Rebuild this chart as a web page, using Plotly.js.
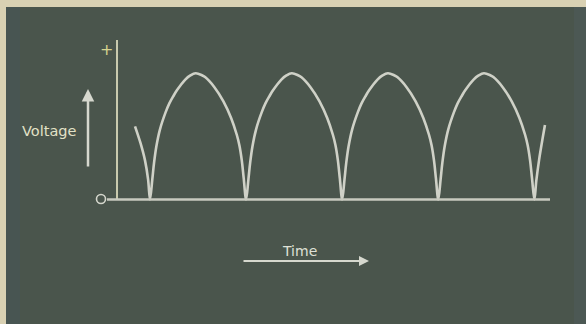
<!DOCTYPE html>
<html>
<head>
<meta charset="utf-8">
<script src="https://cdn.plot.ly/plotly-3.0.1.min.js"></script>
<style>html,body{margin:0;padding:0;background:#d9d1b3;}#chart{width:586px;height:324px;}</style>
</head>
<body>
<div id="chart"></div>
<script>
// Values: time in half-cycles (zero crossings at 1..5), voltage relative to peak
var time = [
  0.844, 0.9, 0.948, 0.98,
  1, 1.024, 1.042, 1.066, 1.104, 1.162, 1.2, 1.24, 1.28, 1.367, 1.42, 1.475, 1.54, 1.573, 1.67, 1.764, 1.844, 1.903, 1.93, 1.955, 1.975,
  2, 2.024, 2.042, 2.066, 2.104, 2.162, 2.2, 2.24, 2.28, 2.367, 2.42, 2.475, 2.54, 2.573, 2.67, 2.764, 2.844, 2.903, 2.93, 2.955, 2.975,
  3, 3.024, 3.042, 3.066, 3.104, 3.162, 3.2, 3.24, 3.28, 3.367, 3.42, 3.475, 3.54, 3.573, 3.67, 3.764, 3.844, 3.903, 3.93, 3.955, 3.975,
  4, 4.024, 4.042, 4.066, 4.104, 4.162, 4.2, 4.24, 4.28, 4.367, 4.42, 4.475, 4.54, 4.573, 4.67, 4.764, 4.844, 4.903, 4.93, 4.955, 4.975,
  5, 5.02, 5.05, 5.08, 5.11
];
var voltage = [
  0.58, 0.45, 0.31, 0.16,
  0, 0.16, 0.29, 0.42, 0.556, 0.69, 0.76, 0.815, 0.865, 0.95, 0.983, 1.0, 0.985, 0.97, 0.89, 0.778, 0.646, 0.513, 0.43, 0.31, 0.17,
  0, 0.16, 0.29, 0.42, 0.556, 0.69, 0.76, 0.815, 0.865, 0.95, 0.983, 1.0, 0.985, 0.97, 0.89, 0.778, 0.646, 0.513, 0.43, 0.31, 0.17,
  0, 0.16, 0.29, 0.42, 0.556, 0.69, 0.76, 0.815, 0.865, 0.95, 0.983, 1.0, 0.985, 0.97, 0.89, 0.778, 0.646, 0.513, 0.43, 0.31, 0.17,
  0, 0.16, 0.29, 0.42, 0.556, 0.69, 0.76, 0.815, 0.865, 0.95, 0.983, 1.0, 0.985, 0.97, 0.89, 0.778, 0.646, 0.513, 0.43, 0.31, 0.17,
  0, 0.15, 0.32, 0.46, 0.59
];
var yLabel = "Voltage";
var xLabel = "Time";
var topMark = "+";

// pixel -> data helpers for layout decorations
var W = 586, H = 324;
var PX0 = 150, PXU = 96.1, PY0 = 199.5, PYU = 126.2;
function tx(px){ return 1 + (px - PX0) / PXU; }
function vy(py){ return (PY0 - py) / PYU; }

var chalk = '#cfd1c7';
var trace = {
  x: time, y: voltage, type: 'scatter', mode: 'lines',
  line: {color: chalk, width: 2.6, shape: 'spline', smoothing: 1},
  hoverinfo: 'skip'
};

var layout = {
  width: W, height: H,
  margin: {l:0, r:0, t:0, b:0, pad:0},
  paper_bgcolor: '#d9d1b3',
  plot_bgcolor: 'rgba(0,0,0,0)',
  showlegend: false,
  xaxis: {range: [tx(0), tx(W)], visible: false, fixedrange: true, showgrid:false, zeroline:false},
  yaxis: {range: [vy(H), vy(0)], visible: false, fixedrange: true, showgrid:false, zeroline:false},
  shapes: [
    {type:'rect', xref:'paper', yref:'paper', x0: 6/W, x1: 1, y0: 0, y1: 1 - 7/H,
     fillcolor:'#4a554c', line:{width:0}, layer:'below'},
    {type:'rect', xref:'paper', yref:'paper', x0: 6/W, x1: 20/W, y0: 0, y1: 1 - 7/H,
     fillcolor:'rgba(70,85,95,0.35)', line:{width:0}, layer:'below'},
    {type:'rect', xref:'paper', yref:'paper', x0: 574/W, x1: 1, y0: 0, y1: 1 - 7/H,
     fillcolor:'rgba(80,95,100,0.35)', line:{width:0}, layer:'below'},
    // y axis line
    {type:'line', x0: tx(117), x1: tx(117), y0: vy(200), y1: vy(40),
     line:{color:'#c9caae', width:2}},
    // x axis line
    {type:'line', x0: tx(107), x1: tx(550), y0: 0, y1: 0,
     line:{color:'#c8cabf', width:2.5}},
    // origin circle
    {type:'circle', x0: tx(96.5), x1: tx(105.5), y0: vy(203.5), y1: vy(194.5),
     line:{color:'#d4d6cc', width:1.6}}
  ],
  annotations: [
    {x: tx(49), y: vy(131), xref:'x', yref:'y', text: yLabel, showarrow:false,
     font:{family:'DejaVu Sans', size:14.5, color:'#e2e1c6'}, xanchor:'center', yanchor:'middle'},
    {x: tx(88), y: vy(89), ax: tx(88), ay: vy(168), xref:'x', yref:'y', axref:'x', ayref:'y',
     text:'', showarrow:true, arrowhead:2, arrowsize:1, arrowwidth:2.5, arrowcolor:'#d6d8ce'},
    {x: tx(299), y: vy(251), xref:'x', yref:'y', text: xLabel, showarrow:false,
     font:{family:'DejaVu Sans', size:14, color:'#dfe0d6'}, xanchor:'center', yanchor:'middle'},
    {x: tx(369), y: vy(261), ax: tx(242), ay: vy(261), xref:'x', yref:'y', axref:'x', ayref:'y',
     text:'', showarrow:true, arrowhead:2, arrowsize:1, arrowwidth:2, arrowcolor:'#d6d8ce'},
    {x: tx(106), y: vy(49), xref:'x', yref:'y', text: topMark, showarrow:false,
     font:{family:'DejaVu Sans', size:16, color:'#d6d38e'}, xanchor:'center', yanchor:'middle'}
  ]
};

Plotly.newPlot('chart', [trace], layout, {staticPlot:true, displayModeBar:false});
</script>
</body>
</html>
